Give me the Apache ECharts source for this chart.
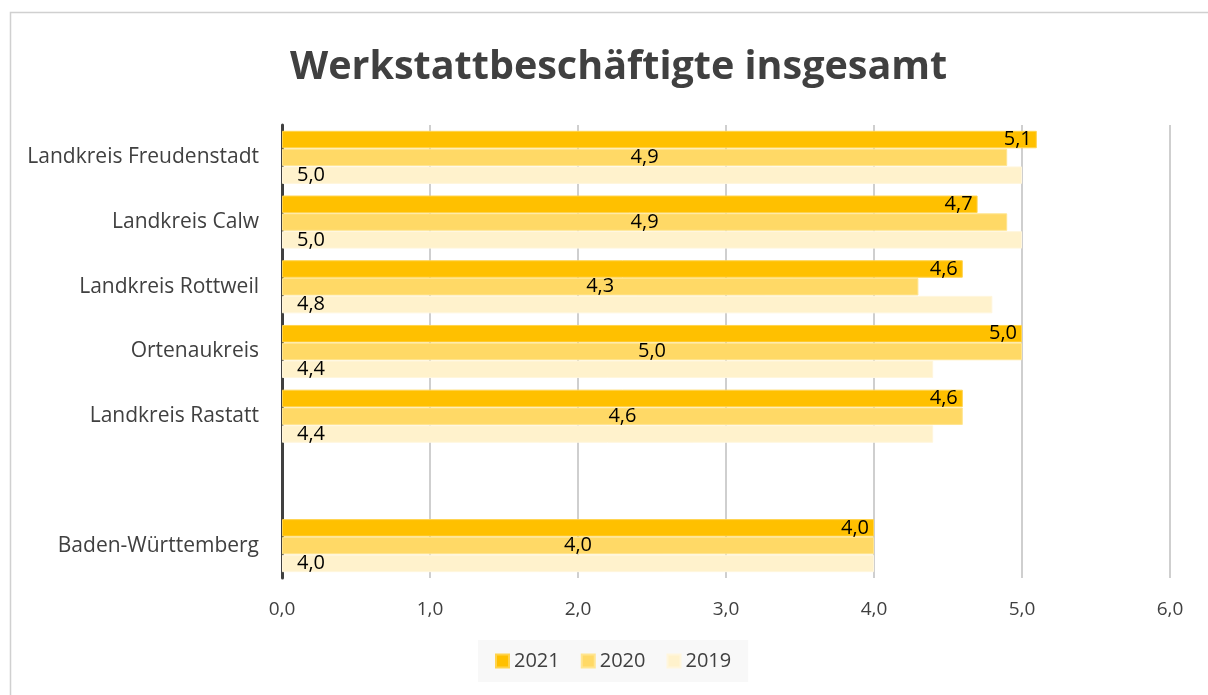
<!DOCTYPE html>
<html>
<head>
<meta charset="utf-8">
<script src="https://cdn.jsdelivr.net/npm/echarts@6/dist/echarts.min.js"></script>
<style>
html,body{margin:0;padding:0;background:#fff;}
#chart{width:1208px;height:695px;}
</style>
</head>
<body>
<div id="chart"></div>
<script>
const categories = ['Landkreis Freudenstadt', 'Landkreis Calw', 'Landkreis Rottweil', 'Ortenaukreis', 'Landkreis Rastatt', '', 'Baden-Württemberg'];
const values2021 = [5.1, 4.7, 4.6, 5.0, 4.6, null, 4.0];
const values2020 = [4.9, 4.9, 4.3, 5.0, 4.6, null, 4.0];
const values2019 = [5.0, 5.0, 4.8, 4.4, 4.4, null, 4.0];
const seriesNames = ['2021', '2020', '2019'];
const xTicks = [0, 1, 2, 3, 4, 5, 6];

const fmt = v => (v == null ? '' : Number(v).toFixed(1).replace('.', ','));
const FONT = '"Open Sans", "Noto Sans", sans-serif';

const chart = echarts.init(document.getElementById('chart'), null, {renderer: 'canvas'});

function mkSeries(name, data, color, border, pos, dist) {
  return {
    name: name,
    type: 'bar',
    data: data,
    barCategoryGap: '18%',
    barGap: '2%',
    itemStyle: {color: color, borderColor: border, borderWidth: 1},
    label: {
      show: true,
      position: pos,
      distance: dist,
      formatter: p => fmt(p.value),
      fontFamily: FONT,
      fontSize: 20,
      color: '#000'
    },
    emphasis: {disabled: true}
  };
}

chart.setOption({
  animation: false,
  title: {
    text: 'Werkstattbeschäftigte insgesamt',
    left: 285,
    top: 43,
    textStyle: {fontFamily: FONT, fontSize: 39.5, fontWeight: 'bold', color: '#404040'}
  },
  graphic: [{
    type: 'rect',
    shape: {x: 10.5, y: 12.5, width: 1400, height: 900},
    style: {fill: 'none', stroke: '#D0D0D0', lineWidth: 1.5},
    silent: true
  }],
  legend: {
    data: seriesNames,
    top: 640,
    left: 478,
    backgroundColor: '#F8F8F8',
    padding: [11, 17, 11, 17],
    itemGap: 21,
    itemWidth: 13,
    itemHeight: 13,
    icon: 'rect',
    textStyle: {fontFamily: FONT, fontSize: 20, color: '#404040'}
  },
  grid: {left: 282, right: 38, top: 125, bottom: 117, containLabel: false},
  xAxis: {
    type: 'value',
    min: xTicks[0],
    max: xTicks[xTicks.length - 1],
    interval: 1,
    axisLine: {show: false},
    axisTick: {show: false},
    splitLine: {show: true, lineStyle: {color: '#BFBFBF', width: 1.5}},
    axisLabel: {
      formatter: v => fmt(v),
      fontFamily: FONT, fontSize: 19, color: '#404040', margin: 22
    }
  },
  yAxis: {
    type: 'category',
    data: categories,
    inverse: true,
    axisLine: {show: true, onZero: false, lineStyle: {color: '#404040', width: 3}},
    axisTick: {show: false},
    axisLabel: {fontFamily: FONT, fontSize: 21, color: '#404040', margin: 23}
  },
  series: [
    mkSeries('2021', values2021, '#FFC000', '#FFD34D', 'insideRight', 5),
    mkSeries('2020', values2020, '#FFD966', '#FFE590', 'inside', 5),
    mkSeries('2019', values2019, '#FFF2CC', '#FFF6DD', 'insideLeft', 15)
  ]
});
</script>
</body>
</html>
